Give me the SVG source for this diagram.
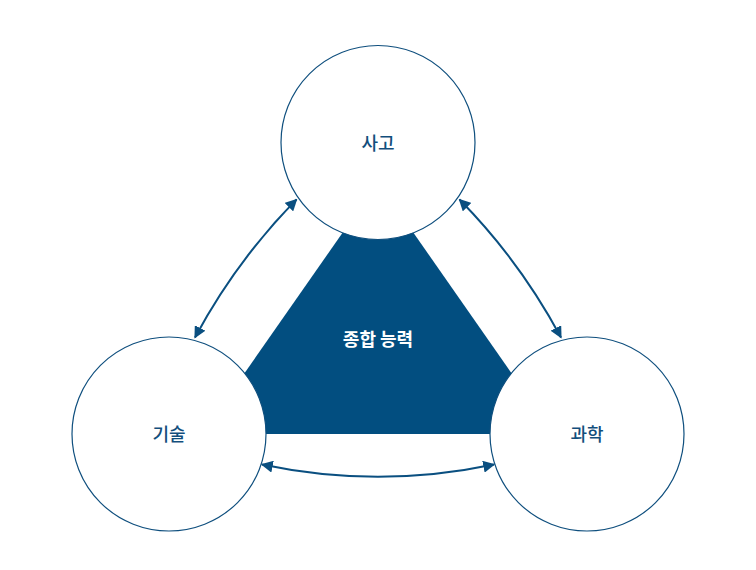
<svg xmlns="http://www.w3.org/2000/svg" width="756" height="570" viewBox="0 0 756 570">
<defs>
<style>
.node circle{fill:#fff;stroke:#0f4f7e;stroke-width:1.2}
.lbl{font-family:"Noto Sans CJK KR","Noto Sans",sans-serif;font-size:18px;font-weight:500;fill:#124e7c;text-anchor:middle;dominant-baseline:central}
.core{font-family:"Noto Sans CJK KR","Noto Sans",sans-serif;font-size:18px;font-weight:700;fill:#fff;text-anchor:middle;dominant-baseline:central}
.conn path{fill:none;stroke:#0a4f80;stroke-width:2}
</style>
<marker id="ah" viewBox="0 0 10 10" refX="9" refY="5" markerWidth="6" markerHeight="6" orient="auto-start-reverse" markerUnits="strokeWidth">
<path d="M0,0 L10,5 L0,10 Z" fill="#0a4f80"/>
</marker>
</defs>
<rect width="756" height="570" fill="#fff"/>
<g id="core">
<polygon points="378,182 202,434 554,434" fill="#024e80"/>
</g>
<g id="conns" class="conn">
<path d="M296.5,199.5 Q236,261 195,337.5" marker-start="url(#ah)" marker-end="url(#ah)"/>
<path d="M459.5,199.5 Q520,261 561,337.5" marker-start="url(#ah)" marker-end="url(#ah)"/>
<path d="M262,464.5 Q378,489 494,464.5" marker-start="url(#ah)" marker-end="url(#ah)"/>
</g>
<g id="node-thinking" class="node">
<circle cx="378" cy="142.5" r="97"/>
<text class="lbl" x="378" y="142">사고</text>
</g>
<g id="node-tech" class="node">
<circle cx="169" cy="434" r="97"/>
<text class="lbl" x="169" y="433">기술</text>
</g>
<g id="node-science" class="node">
<circle cx="587" cy="434" r="97"/>
<text class="lbl" x="587" y="433">과학</text>
</g>
<text class="core" x="378" y="338">종합 능력</text>
</svg>
